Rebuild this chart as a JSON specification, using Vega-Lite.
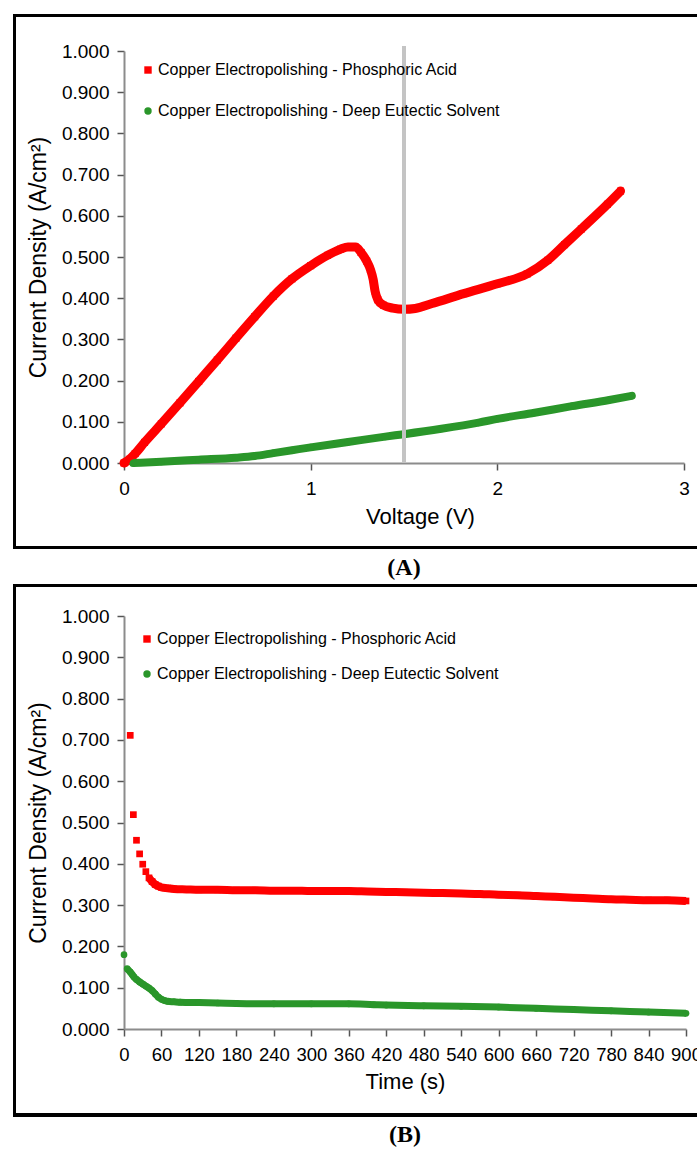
{
  "$schema": "https://vega.github.io/schema/vega-lite/v6.json",
  "padding": {"left": 11, "top": 13, "right": 0, "bottom": 0},
  "background": "white",
  "spacing": 3,
  "config": {
    "view": {"stroke": null},
    "font": "Liberation Sans",
    "axis": {
      "labelFont": "Liberation Sans", "labelFontSize": 19, "labelColor": "#000",
      "titleFont": "Liberation Sans", "titleFontSize": 22, "titleFontWeight": "normal", "titleColor": "#000",
      "domainColor": "#8c8c8c", "domainWidth": 2, "tickColor": "#555", "tickWidth": 1.5, "tickSize": 7,
      "grid": false, "labelOverlap": false, "labelFlush": false
    },
    "title": {"font": "Liberation Serif", "fontWeight": "bold", "fontSize": 24, "orient": "bottom", "anchor": "middle", "color": "#000", "offset": 7}
  },
  "resolve": {
    "scale": {"x": "independent", "y": "independent", "color": "independent", "shape": "independent"},
    "legend": {"color": "independent", "shape": "independent"}
  },
  "datasets": {
    "A": [
      {"series": "Copper Electropolishing - Phosphoric Acid", "voltage": 0, "density": 0},
      {"series": "Copper Electropolishing - Phosphoric Acid", "voltage": 0.03, "density": 0.009},
      {"series": "Copper Electropolishing - Phosphoric Acid", "voltage": 0.06, "density": 0.023},
      {"series": "Copper Electropolishing - Phosphoric Acid", "voltage": 0.11, "density": 0.05},
      {"series": "Copper Electropolishing - Phosphoric Acid", "voltage": 0.2, "density": 0.095},
      {"series": "Copper Electropolishing - Phosphoric Acid", "voltage": 0.3, "density": 0.146},
      {"series": "Copper Electropolishing - Phosphoric Acid", "voltage": 0.4, "density": 0.198},
      {"series": "Copper Electropolishing - Phosphoric Acid", "voltage": 0.5, "density": 0.25},
      {"series": "Copper Electropolishing - Phosphoric Acid", "voltage": 0.6, "density": 0.303},
      {"series": "Copper Electropolishing - Phosphoric Acid", "voltage": 0.7, "density": 0.355},
      {"series": "Copper Electropolishing - Phosphoric Acid", "voltage": 0.8, "density": 0.405},
      {"series": "Copper Electropolishing - Phosphoric Acid", "voltage": 0.9, "density": 0.447},
      {"series": "Copper Electropolishing - Phosphoric Acid", "voltage": 1.0, "density": 0.479},
      {"series": "Copper Electropolishing - Phosphoric Acid", "voltage": 1.09, "density": 0.504},
      {"series": "Copper Electropolishing - Phosphoric Acid", "voltage": 1.16, "density": 0.519},
      {"series": "Copper Electropolishing - Phosphoric Acid", "voltage": 1.2, "density": 0.524},
      {"series": "Copper Electropolishing - Phosphoric Acid", "voltage": 1.24, "density": 0.524},
      {"series": "Copper Electropolishing - Phosphoric Acid", "voltage": 1.27, "density": 0.511},
      {"series": "Copper Electropolishing - Phosphoric Acid", "voltage": 1.3, "density": 0.49},
      {"series": "Copper Electropolishing - Phosphoric Acid", "voltage": 1.32, "density": 0.47},
      {"series": "Copper Electropolishing - Phosphoric Acid", "voltage": 1.335, "density": 0.445},
      {"series": "Copper Electropolishing - Phosphoric Acid", "voltage": 1.345, "density": 0.417},
      {"series": "Copper Electropolishing - Phosphoric Acid", "voltage": 1.36, "density": 0.396},
      {"series": "Copper Electropolishing - Phosphoric Acid", "voltage": 1.39, "density": 0.383},
      {"series": "Copper Electropolishing - Phosphoric Acid", "voltage": 1.44, "density": 0.376},
      {"series": "Copper Electropolishing - Phosphoric Acid", "voltage": 1.5, "density": 0.373},
      {"series": "Copper Electropolishing - Phosphoric Acid", "voltage": 1.56, "density": 0.375},
      {"series": "Copper Electropolishing - Phosphoric Acid", "voltage": 1.65, "density": 0.387},
      {"series": "Copper Electropolishing - Phosphoric Acid", "voltage": 1.82, "density": 0.411},
      {"series": "Copper Electropolishing - Phosphoric Acid", "voltage": 2.0, "density": 0.435},
      {"series": "Copper Electropolishing - Phosphoric Acid", "voltage": 2.16, "density": 0.459},
      {"series": "Copper Electropolishing - Phosphoric Acid", "voltage": 2.27, "density": 0.492},
      {"series": "Copper Electropolishing - Phosphoric Acid", "voltage": 2.36, "density": 0.53},
      {"series": "Copper Electropolishing - Phosphoric Acid", "voltage": 2.45, "density": 0.568},
      {"series": "Copper Electropolishing - Phosphoric Acid", "voltage": 2.59, "density": 0.628},
      {"series": "Copper Electropolishing - Phosphoric Acid", "voltage": 2.66, "density": 0.66},
      {"series": "Copper Electropolishing - Deep Eutectic Solvent", "voltage": 0.05, "density": 0.0},
      {"series": "Copper Electropolishing - Deep Eutectic Solvent", "voltage": 0.2, "density": 0.003},
      {"series": "Copper Electropolishing - Deep Eutectic Solvent", "voltage": 0.4, "density": 0.008},
      {"series": "Copper Electropolishing - Deep Eutectic Solvent", "voltage": 0.6, "density": 0.013},
      {"series": "Copper Electropolishing - Deep Eutectic Solvent", "voltage": 0.7, "density": 0.017},
      {"series": "Copper Electropolishing - Deep Eutectic Solvent", "voltage": 0.8, "density": 0.024},
      {"series": "Copper Electropolishing - Deep Eutectic Solvent", "voltage": 0.9, "density": 0.031},
      {"series": "Copper Electropolishing - Deep Eutectic Solvent", "voltage": 1.0, "density": 0.038},
      {"series": "Copper Electropolishing - Deep Eutectic Solvent", "voltage": 1.2, "density": 0.051},
      {"series": "Copper Electropolishing - Deep Eutectic Solvent", "voltage": 1.4, "density": 0.064},
      {"series": "Copper Electropolishing - Deep Eutectic Solvent", "voltage": 1.5, "density": 0.07},
      {"series": "Copper Electropolishing - Deep Eutectic Solvent", "voltage": 1.7, "density": 0.083},
      {"series": "Copper Electropolishing - Deep Eutectic Solvent", "voltage": 1.9, "density": 0.098},
      {"series": "Copper Electropolishing - Deep Eutectic Solvent", "voltage": 2.0, "density": 0.107},
      {"series": "Copper Electropolishing - Deep Eutectic Solvent", "voltage": 2.2, "density": 0.122},
      {"series": "Copper Electropolishing - Deep Eutectic Solvent", "voltage": 2.4, "density": 0.138},
      {"series": "Copper Electropolishing - Deep Eutectic Solvent", "voltage": 2.6, "density": 0.153},
      {"series": "Copper Electropolishing - Deep Eutectic Solvent", "voltage": 2.72, "density": 0.163}
    ],
    "B": [
      {"series": "Copper Electropolishing - Phosphoric Acid", "time": 10, "density": 0.711},
      {"series": "Copper Electropolishing - Phosphoric Acid", "time": 15, "density": 0.519},
      {"series": "Copper Electropolishing - Phosphoric Acid", "time": 20, "density": 0.457},
      {"series": "Copper Electropolishing - Phosphoric Acid", "time": 25, "density": 0.424},
      {"series": "Copper Electropolishing - Phosphoric Acid", "time": 30, "density": 0.399},
      {"series": "Copper Electropolishing - Phosphoric Acid", "time": 35, "density": 0.381},
      {"series": "Copper Electropolishing - Phosphoric Acid", "time": 40, "density": 0.366},
      {"series": "Copper Electropolishing - Phosphoric Acid", "time": 45, "density": 0.357},
      {"series": "Copper Electropolishing - Phosphoric Acid", "time": 50, "density": 0.35},
      {"series": "Copper Electropolishing - Phosphoric Acid", "time": 55, "density": 0.346},
      {"series": "Copper Electropolishing - Phosphoric Acid", "time": 60, "density": 0.343},
      {"series": "Copper Electropolishing - Phosphoric Acid", "time": 70, "density": 0.341},
      {"series": "Copper Electropolishing - Phosphoric Acid", "time": 80, "density": 0.339},
      {"series": "Copper Electropolishing - Phosphoric Acid", "time": 100, "density": 0.338},
      {"series": "Copper Electropolishing - Phosphoric Acid", "time": 120, "density": 0.337},
      {"series": "Copper Electropolishing - Phosphoric Acid", "time": 150, "density": 0.337},
      {"series": "Copper Electropolishing - Phosphoric Acid", "time": 180, "density": 0.336},
      {"series": "Copper Electropolishing - Phosphoric Acid", "time": 210, "density": 0.336},
      {"series": "Copper Electropolishing - Phosphoric Acid", "time": 240, "density": 0.335},
      {"series": "Copper Electropolishing - Phosphoric Acid", "time": 270, "density": 0.335},
      {"series": "Copper Electropolishing - Phosphoric Acid", "time": 300, "density": 0.334},
      {"series": "Copper Electropolishing - Phosphoric Acid", "time": 330, "density": 0.334},
      {"series": "Copper Electropolishing - Phosphoric Acid", "time": 360, "density": 0.334},
      {"series": "Copper Electropolishing - Phosphoric Acid", "time": 390, "density": 0.333},
      {"series": "Copper Electropolishing - Phosphoric Acid", "time": 420, "density": 0.332},
      {"series": "Copper Electropolishing - Phosphoric Acid", "time": 450, "density": 0.331},
      {"series": "Copper Electropolishing - Phosphoric Acid", "time": 480, "density": 0.33},
      {"series": "Copper Electropolishing - Phosphoric Acid", "time": 510, "density": 0.329},
      {"series": "Copper Electropolishing - Phosphoric Acid", "time": 540, "density": 0.328},
      {"series": "Copper Electropolishing - Phosphoric Acid", "time": 570, "density": 0.327},
      {"series": "Copper Electropolishing - Phosphoric Acid", "time": 600, "density": 0.325},
      {"series": "Copper Electropolishing - Phosphoric Acid", "time": 630, "density": 0.324},
      {"series": "Copper Electropolishing - Phosphoric Acid", "time": 660, "density": 0.322},
      {"series": "Copper Electropolishing - Phosphoric Acid", "time": 690, "density": 0.32},
      {"series": "Copper Electropolishing - Phosphoric Acid", "time": 720, "density": 0.318},
      {"series": "Copper Electropolishing - Phosphoric Acid", "time": 750, "density": 0.316},
      {"series": "Copper Electropolishing - Phosphoric Acid", "time": 780, "density": 0.314},
      {"series": "Copper Electropolishing - Phosphoric Acid", "time": 810, "density": 0.313},
      {"series": "Copper Electropolishing - Phosphoric Acid", "time": 840, "density": 0.312},
      {"series": "Copper Electropolishing - Phosphoric Acid", "time": 870, "density": 0.312},
      {"series": "Copper Electropolishing - Phosphoric Acid", "time": 900, "density": 0.31},
      {"series": "Copper Electropolishing - Deep Eutectic Solvent", "time": 0, "density": 0.18},
      {"series": "Copper Electropolishing - Deep Eutectic Solvent", "time": 5, "density": 0.146},
      {"series": "Copper Electropolishing - Deep Eutectic Solvent", "time": 10, "density": 0.138},
      {"series": "Copper Electropolishing - Deep Eutectic Solvent", "time": 13, "density": 0.132},
      {"series": "Copper Electropolishing - Deep Eutectic Solvent", "time": 16, "density": 0.126},
      {"series": "Copper Electropolishing - Deep Eutectic Solvent", "time": 20, "density": 0.12},
      {"series": "Copper Electropolishing - Deep Eutectic Solvent", "time": 25, "density": 0.114},
      {"series": "Copper Electropolishing - Deep Eutectic Solvent", "time": 30, "density": 0.109},
      {"series": "Copper Electropolishing - Deep Eutectic Solvent", "time": 35, "density": 0.104},
      {"series": "Copper Electropolishing - Deep Eutectic Solvent", "time": 40, "density": 0.099},
      {"series": "Copper Electropolishing - Deep Eutectic Solvent", "time": 45, "density": 0.093},
      {"series": "Copper Electropolishing - Deep Eutectic Solvent", "time": 50, "density": 0.085},
      {"series": "Copper Electropolishing - Deep Eutectic Solvent", "time": 55, "density": 0.077},
      {"series": "Copper Electropolishing - Deep Eutectic Solvent", "time": 60, "density": 0.072},
      {"series": "Copper Electropolishing - Deep Eutectic Solvent", "time": 65, "density": 0.069},
      {"series": "Copper Electropolishing - Deep Eutectic Solvent", "time": 70, "density": 0.067},
      {"series": "Copper Electropolishing - Deep Eutectic Solvent", "time": 80, "density": 0.066},
      {"series": "Copper Electropolishing - Deep Eutectic Solvent", "time": 90, "density": 0.065},
      {"series": "Copper Electropolishing - Deep Eutectic Solvent", "time": 120, "density": 0.064},
      {"series": "Copper Electropolishing - Deep Eutectic Solvent", "time": 150, "density": 0.063},
      {"series": "Copper Electropolishing - Deep Eutectic Solvent", "time": 180, "density": 0.062},
      {"series": "Copper Electropolishing - Deep Eutectic Solvent", "time": 240, "density": 0.061},
      {"series": "Copper Electropolishing - Deep Eutectic Solvent", "time": 300, "density": 0.061},
      {"series": "Copper Electropolishing - Deep Eutectic Solvent", "time": 360, "density": 0.061},
      {"series": "Copper Electropolishing - Deep Eutectic Solvent", "time": 400, "density": 0.059},
      {"series": "Copper Electropolishing - Deep Eutectic Solvent", "time": 420, "density": 0.058},
      {"series": "Copper Electropolishing - Deep Eutectic Solvent", "time": 480, "density": 0.056},
      {"series": "Copper Electropolishing - Deep Eutectic Solvent", "time": 540, "density": 0.055},
      {"series": "Copper Electropolishing - Deep Eutectic Solvent", "time": 600, "density": 0.053},
      {"series": "Copper Electropolishing - Deep Eutectic Solvent", "time": 660, "density": 0.05},
      {"series": "Copper Electropolishing - Deep Eutectic Solvent", "time": 720, "density": 0.047},
      {"series": "Copper Electropolishing - Deep Eutectic Solvent", "time": 780, "density": 0.044},
      {"series": "Copper Electropolishing - Deep Eutectic Solvent", "time": 840, "density": 0.041},
      {"series": "Copper Electropolishing - Deep Eutectic Solvent", "time": 900, "density": 0.038}
    ]
  },
  "vconcat": [
    {
      "width": 560,
      "height": 412,
      "data": {"name": "A"},
      "title": {"text": "(A)"},
      "layer": [
        {
          "transform": [{"filter": "datum.series === 'Copper Electropolishing - Phosphoric Acid'"}],
          "mark": {"type": "line", "color": "#ff0000", "strokeWidth": 9, "interpolate": "monotone", "strokeCap": "round", "strokeJoin": "round"},
          "encoding": {
            "x": {"field": "voltage", "type": "quantitative", "scale": {"domain": [0, 3], "nice": false, "zero": false},
                  "axis": {"values": [0, 1, 2, 3], "tickCount": 10, "format": "d", "title": "Voltage (V)", "titleX": 296, "labelPadding": 9, "titlePadding": 8, "labelOverlap": false}},
            "y": {"field": "density", "type": "quantitative", "scale": {"domain": [0, 1], "nice": false},
                  "axis": {"values": [0, 0.1, 0.2, 0.3, 0.4, 0.5, 0.6, 0.7, 0.8, 0.9, 1.0], "tickCount": 20, "format": ".3f", "title": "Current Density (A/cm²)", "titleFontSize": 23, "labelPadding": 8, "titlePadding": 11, "labelOverlap": false}}
          }
        },
        {
          "transform": [{"filter": "datum.series === 'Copper Electropolishing - Deep Eutectic Solvent'"}],
          "mark": {"type": "line", "color": "#2a962a", "strokeWidth": 8, "interpolate": "monotone", "strokeCap": "round", "strokeJoin": "round"},
          "encoding": {
            "x": {"field": "voltage", "type": "quantitative"},
            "y": {"field": "density", "type": "quantitative"}
          }
        },
        {
          "mark": {"type": "point", "filled": true, "size": 50, "opacity": 1},
          "encoding": {
            "x": {"field": "voltage", "type": "quantitative"},
            "y": {"field": "density", "type": "quantitative"},
            "color": {"field": "series", "type": "nominal",
              "scale": {"domain": ["Copper Electropolishing - Phosphoric Acid", "Copper Electropolishing - Deep Eutectic Solvent"], "range": ["#ff0000", "#2a962a"]},
              "legend": {"title": null, "orient": "none", "legendX": 16, "legendY": 11, "padding": 0, "rowPadding": 25, "labelFont": "Liberation Sans", "labelFontSize": 16, "labelColor": "#000", "labelLimit": 0, "symbolSize": 55, "symbolStrokeWidth": 0, "labelOffset": 2}},
            "shape": {"field": "series", "type": "nominal",
              "scale": {"domain": ["Copper Electropolishing - Phosphoric Acid", "Copper Electropolishing - Deep Eutectic Solvent"], "range": ["square", "circle"]},
              "legend": {"title": null, "orient": "none", "legendX": 16, "legendY": 11, "padding": 0, "rowPadding": 25, "labelFont": "Liberation Sans", "labelFontSize": 16, "labelColor": "#000", "labelLimit": 0, "symbolSize": 55, "symbolStrokeWidth": 0, "labelOffset": 2}}
          }
        },
        {
          "mark": {"type": "rule", "color": "#c4c4c4", "strokeWidth": 3},
          "encoding": {"x": {"datum": 1.5, "type": "quantitative"}, "y": {"datum": 0, "type": "quantitative"}, "y2": {"datum": 1.012}}
        },
        {
          "mark": {"type": "rule", "color": "#000", "strokeWidth": 2.5},
          "encoding": {"x": {"datum": -0.587, "type": "quantitative"}, "y": {"datum": 1.087, "type": "quantitative"}, "y2": {"datum": -0.206}}
        },
        {
          "mark": {"type": "rule", "color": "#000", "strokeWidth": 2.5},
          "encoding": {"x": {"datum": -0.594, "type": "quantitative"}, "x2": {"datum": 3.08}, "y": {"datum": 1.087, "type": "quantitative"}}
        },
        {
          "mark": {"type": "rule", "color": "#000", "strokeWidth": 2.5},
          "encoding": {"x": {"datum": -0.594, "type": "quantitative"}, "x2": {"datum": 3.08}, "y": {"datum": -0.206, "type": "quantitative"}}
        }
      ]
    },
    {
      "width": 562,
      "height": 413,
      "data": {"name": "B"},
      "title": {"text": "(B)"},
      "layer": [
        {
          "transform": [{"filter": "datum.series === 'Copper Electropolishing - Phosphoric Acid' && datum.time >= 40"}],
          "mark": {"type": "line", "color": "#ff0000", "strokeWidth": 8, "interpolate": "monotone", "strokeJoin": "round"},
          "encoding": {
            "x": {"field": "time", "type": "quantitative", "scale": {"domain": [0, 900], "nice": false, "zero": false},
                  "axis": {"values": [0, 60, 120, 180, 240, 300, 360, 420, 480, 540, 600, 660, 720, 780, 840, 900], "tickCount": 30, "format": "d", "title": "Time (s)", "labelFontSize": 18.5, "labelPadding": 9, "titlePadding": 8, "labelOverlap": false, "labelBound": false}},
            "y": {"field": "density", "type": "quantitative", "scale": {"domain": [0, 1], "nice": false},
                  "axis": {"values": [0, 0.1, 0.2, 0.3, 0.4, 0.5, 0.6, 0.7, 0.8, 0.9, 1.0], "tickCount": 20, "format": ".3f", "title": "Current Density (A/cm²)", "titleFontSize": 23, "labelPadding": 8, "titlePadding": 11, "labelOverlap": false}}
          }
        },
        {
          "transform": [{"filter": "datum.series === 'Copper Electropolishing - Deep Eutectic Solvent' && datum.time >= 5"}],
          "mark": {"type": "line", "color": "#2a962a", "strokeWidth": 7, "interpolate": "monotone", "strokeJoin": "round"},
          "encoding": {
            "x": {"field": "time", "type": "quantitative"},
            "y": {"field": "density", "type": "quantitative"}
          }
        },
        {
          "mark": {"type": "point", "filled": true, "size": 45, "opacity": 1},
          "encoding": {
            "x": {"field": "time", "type": "quantitative"},
            "y": {"field": "density", "type": "quantitative"},
            "color": {"field": "series", "type": "nominal",
              "scale": {"domain": ["Copper Electropolishing - Phosphoric Acid", "Copper Electropolishing - Deep Eutectic Solvent"], "range": ["#ff0000", "#2a962a"]},
              "legend": {"title": null, "orient": "none", "legendX": 15, "legendY": 15, "padding": 0, "rowPadding": 19, "labelFont": "Liberation Sans", "labelFontSize": 16, "labelColor": "#000", "labelLimit": 0, "symbolSize": 55, "symbolStrokeWidth": 0, "labelOffset": 2}},
            "shape": {"field": "series", "type": "nominal",
              "scale": {"domain": ["Copper Electropolishing - Phosphoric Acid", "Copper Electropolishing - Deep Eutectic Solvent"], "range": ["square", "circle"]},
              "legend": {"title": null, "orient": "none", "legendX": 15, "legendY": 15, "padding": 0, "rowPadding": 19, "labelFont": "Liberation Sans", "labelFontSize": 16, "labelColor": "#000", "labelLimit": 0, "symbolSize": 55, "symbolStrokeWidth": 0, "labelOffset": 2}}
          }
        },
        {
          "mark": {"type": "rule", "color": "#000", "strokeWidth": 2.5},
          "encoding": {"x": {"datum": -175.4, "type": "quantitative"}, "y": {"datum": 1.073, "type": "quantitative"}, "y2": {"datum": -0.208}}
        },
        {
          "mark": {"type": "rule", "color": "#000", "strokeWidth": 2.5},
          "encoding": {"x": {"datum": -177.4, "type": "quantitative"}, "x2": {"datum": 920.8}, "y": {"datum": 1.073, "type": "quantitative"}}
        },
        {
          "mark": {"type": "rule", "color": "#000", "strokeWidth": 2.5},
          "encoding": {"x": {"datum": -177.4, "type": "quantitative"}, "x2": {"datum": 920.8}, "y": {"datum": -0.208, "type": "quantitative"}}
        }
      ]
    }
  ]
}
